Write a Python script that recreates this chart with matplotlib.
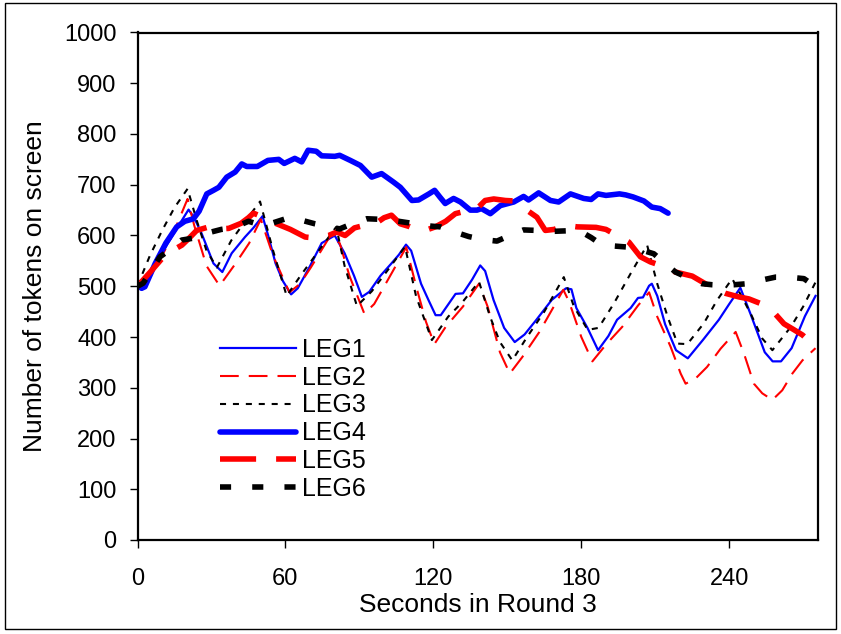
import matplotlib
matplotlib.use("Agg")
import matplotlib.pyplot as plt
from matplotlib.patches import Rectangle

plt.rcParams['font.family'] = ['Liberation Sans', 'DejaVu Sans']

# ---------------- data ----------------
leg1_t = [0, 1.7, 7, 12, 17, 20.7, 23, 26, 30.8, 34.4, 38.2, 43.6, 47, 50.7, 53, 56, 59, 62.3, 65, 70, 74.7, 80,
          84, 87.8, 91, 94, 98.6, 103, 106, 108.9, 111, 115, 118, 120.9, 123, 129, 132, 135.7, 139, 141, 144.4,
          148.7, 153, 157, 161.8, 168, 173.8, 176, 178, 182.5, 186.8, 191, 194.5, 200, 203, 205, 207.5, 208.6,
          210.8, 214, 218.4, 223.2, 229.3, 235.8, 240, 244.5, 248.9, 254.4, 257.6, 261, 265.3, 270.7, 275]
leg1_v = [500, 493, 540, 582, 622, 651, 635, 604, 545, 528, 565, 597, 615, 638, 600, 545, 510, 484, 496, 540, 585, 600,
          565, 521, 479, 489, 521, 545, 562, 582, 570, 505, 473, 443, 443, 485, 486, 513, 541, 530, 473,
          418, 390, 405, 434, 473, 496, 494, 457, 418, 374, 402, 434, 457, 477, 478, 501, 505,
          481, 425, 374, 358, 394, 434, 465, 497, 442, 370, 352, 352, 378, 441, 481]

leg2_t = [0, 5, 10, 15, 20.3, 23, 28, 33.3, 39.8, 45.3, 50, 55, 61.6, 66, 70.3, 78, 82, 86, 92, 96, 103, 109, 113,
          117, 120.4, 125, 132, 138.5, 142, 147, 151, 156, 163, 172.7, 175, 180, 184.5, 190, 196.6, 203, 207.5,
          210.8, 216.2, 220.3, 222.3, 226.3, 231, 236.5, 242.6, 246, 250, 253.4, 257.5, 261.5, 265.6, 269.7, 275]
leg2_v = [499, 530, 560, 610, 672, 620, 540, 501, 545, 585, 632, 560, 488, 505, 537, 598, 585, 520, 446, 465, 525, 577, 500,
          430, 386, 420, 460, 505, 460, 370, 328, 360, 410, 493, 470, 400, 352, 385, 420, 462, 488,
          440, 381, 328, 308, 318, 341, 377, 410, 367, 308, 289, 276, 295, 328, 354, 378]

leg3_t = [0, 5, 10, 15, 20.3, 24, 28, 32.2, 38, 44, 49.7, 55, 60.5, 66, 72, 80.6, 84, 89, 95, 102, 108.5, 113,
          119.4, 126, 132, 138.5, 143, 147, 152, 158, 165, 172.9, 177, 182.6, 187, 193.2, 200, 206.7, 210.8,
          215, 219, 223, 229.7, 235, 241.2, 248.7, 253.4, 257.5, 265, 270, 275]
leg3_v = [501, 560, 610, 655, 692, 630, 570, 537, 590, 630, 667, 570, 481, 520, 560, 617, 540, 461, 490, 535, 578, 480,
          394, 440, 470, 509, 440, 390, 354, 400, 450, 518, 460, 414, 418, 466, 525, 581, 505,
          440, 387, 386, 427, 472, 515, 446, 397, 374, 420, 460, 508]

leg4_t = [0, 1.7, 3, 7.2, 11.5, 15.9, 19.2, 22.7, 25, 28.1, 30.8, 33, 36.2, 39.6, 42.3, 44.3, 48.6, 52.9, 57.3,
          59.5, 63.8, 66.6, 69.2, 72.5, 74.7, 80, 82, 86.3, 90.4, 95, 99, 103.9, 106.6, 111.3, 114, 118.2, 120.5,
          122.6, 124.8, 128.2, 131, 135, 137.7, 139.5, 143.1, 147.2, 152.6, 156.6, 158.6, 162.7, 167.5, 170.8,
          175.6, 181, 184, 186.8, 190, 195.5, 198, 201, 205.4, 208.6, 212, 215.2]
leg4_v = [501, 496, 499, 545, 585, 617, 628, 633, 648, 682, 689, 695, 715, 725, 741, 736, 736, 748, 750,
          742, 752, 745, 768, 766, 757, 756, 758, 748, 738, 715, 722, 705, 695, 669, 670, 682, 689,
          676, 663, 673, 666, 650, 650, 653, 643, 659, 666, 677, 670, 684, 669, 666,
          682, 673, 671, 682, 679, 682, 680, 676, 668, 656, 653, 644]

leg5_t = [0, 5, 10, 14, 18, 21, 24, 29, 33, 37, 42, 45, 47, 50, 53, 56.5, 62, 68, 72, 77.5, 80.9, 84.2, 88, 92, 97,
          100, 103, 106.6, 110, 113, 116.7, 120.8, 125, 128.9, 133, 137.7, 141, 144.5, 149.2, 153, 157, 162,
          165.4, 169, 173.6, 178.3, 186, 190, 194.5, 199.3, 204, 208, 212.2, 218.2, 225, 232.4, 238.5, 243.9,
          248, 252.7, 258, 262.2, 266, 269.7, 275]
leg5_v = [500, 527, 555, 570, 581, 595, 610, 617, 613, 614, 624, 635, 644, 638, 630, 623, 612, 597, 595, 600, 607, 600,
          615, 620, 625, 635, 640, 623, 618, 612, 610, 617, 628, 643, 648, 653, 669, 672, 669, 668, 653, 636,
          610, 612, 620, 617, 616, 612, 600, 587, 558, 548, 541, 528, 520, 499, 486, 479,
          475, 466, 449, 426, 415, 404, 381]

leg6_t = [0, 2.3, 9.1, 14, 17.9, 23, 28, 30, 34, 38.9, 45, 50.4, 55, 62, 72, 77, 82, 88, 93, 98, 103.2, 110, 115.4,
          122.8, 128, 134.3, 140, 145.8, 151, 156.6, 162, 167.5, 173, 179, 184, 188.5, 194, 199.3, 204, 209.4,
          214, 218.2, 224, 229, 233, 237.2, 242, 247.3, 253, 258.8, 264, 270.3, 275]
leg6_v = [500, 506, 558, 575, 591, 595, 602, 607, 612, 615, 628, 620, 625, 636, 623, 618, 613, 625, 633, 632, 630, 625,
          620, 617, 608, 598, 592, 589, 600, 611, 610, 608, 609, 610, 596, 581, 579, 577, 572, 564,
          545, 528, 515, 505, 503, 502, 503, 505, 512, 518, 518, 515, 499]

legend_labels = ['LEG1', 'LEG2', 'LEG3', 'LEG4', 'LEG5', 'LEG6']
x_ticks = [0, 60, 120, 180, 240]
y_ticks = [0, 100, 200, 300, 400, 500, 600, 700, 800, 900, 1000]
x_label = 'Seconds in Round 3'
y_label = 'Number of tokens on screen'

# ---------------- figure ----------------
W, H = 841, 634
fig = plt.figure(figsize=(W / 100, H / 100), dpi=100)
ax = fig.add_axes([137.5 / W, 1 - 540 / H, (818 - 137.5) / W, (540 - 32.5) / H])

ax.plot(leg1_t, leg1_v, color='#0000ff', lw=1.6, label=legend_labels[0])
ax.plot(leg2_t, leg2_v, color='#ff0000', lw=1.5, linestyle=(0, (9.0, 4.8)), label=legend_labels[1])
ax.plot(leg3_t, leg3_v, color='#000000', lw=1.5, linestyle=(0, (2.9, 3.3)), label=legend_labels[2])
ax.plot(leg4_t, leg4_v, color='#0000ff', lw=4.0, solid_capstyle='round', label=legend_labels[3])
ax.plot(leg5_t, leg5_v, color='#ff0000', lw=4.0, linestyle=(0, (6.5, 3.6)), label=legend_labels[4])
ax.plot(leg6_t, leg6_v, color='#000000', lw=4.0, linestyle=(0, (2.0, 3.8)), label=legend_labels[5])

ax.set_xlim(0, 276)
ax.set_ylim(0, 1000)
ax.set_xticks(x_ticks)
ax.set_yticks(y_ticks)
ax.tick_params(axis='both', direction='out', length=6, width=1.0, labelsize=17, colors='black')
ax.tick_params(axis='y', pad=9)
ax.tick_params(axis='x', pad=14)
for s in ax.spines.values():
    s.set_linewidth(1.6)
    s.set_color('black')

ax.set_xlabel(x_label, fontsize=19, labelpad=2)
ax.set_ylabel(y_label, fontsize=19, labelpad=12)

ax.legend(loc='upper left', bbox_to_anchor=(220 / W, 1 - 338 / H), bbox_transform=fig.transFigure,
          frameon=False, fontsize=18, handlelength=3.05, handletextpad=0.25, labelspacing=0.15,
          borderpad=0, borderaxespad=0)

fig.patches.append(Rectangle((5 / W, 1 - 629 / H), (836 - 5) / W, (629 - 3) / H, transform=fig.transFigure,
                             fill=False, edgecolor='black', linewidth=1.0))

fig.savefig('out.png', dpi=100)
